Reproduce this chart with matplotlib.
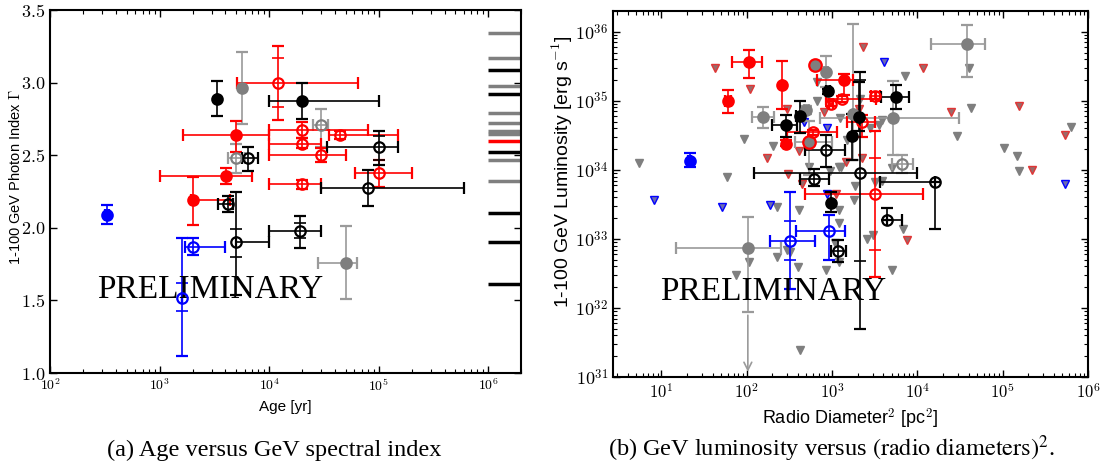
import numpy as np
import matplotlib
matplotlib.use('Agg')
import matplotlib.pyplot as plt
from matplotlib.ticker import FixedLocator, FuncFormatter, LogLocator, NullFormatter, NullLocator

plt.rcParams['font.family'] = ['Liberation Sans', 'DejaVu Sans']
plt.rcParams['mathtext.fontset'] = 'cm'

GRAY = '#7f7f7f'
LGRAY = '#9a9a9a'

# ---- (a) age vs photon index: rows are (x, y, x_lo, x_hi, y_lo, y_hi[, y_lo_stat, y_hi_stat])
a_blue_filled = [(330, 2.09, 315, 345, 2.025, 2.155)]
a_blue_open = [(2000, 1.87, 1700, 4000, 1.81, 1.93),
               (1600, 1.52, 1600, 1600, 1.12, 1.93, 1.43, 1.62)]
a_red_filled = [(2000, 2.19, 1950, 4400, 2.02, 2.35),
                (4030, 2.36, 1000, 7050, 2.30, 2.414),
                (5000, 2.64, 1630, 10000, 2.52, 2.735)]
a_red_open = [(12000, 3.0, 5070, 65000, 2.74, 3.254, 2.83, 3.167),
              (20000, 2.674, 10000, 80000, 2.62, 2.73),
              (20000, 2.58, 10000, 30000, 2.55, 2.62),
              (30000, 2.50, 10000, 50000, 2.45, 2.55),
              (44800, 2.64, 35300, 150000, 2.61, 2.67),
              (20000, 2.30, 10000, 30000, 2.27, 2.33),
              (100000, 2.38, 61000, 200000, 2.28, 2.47)]
a_black_filled = [(3330, 2.89, 3330, 3330, 2.77, 3.01),
                  (20000, 2.875, 10000, 100000, 2.75, 3.0)]
a_black_open = [(4200, 2.164, 3420, 4690, 2.11, 2.22),
                (6470, 2.48, 5660, 7940, 2.39, 2.555),
                (5000, 1.90, 5000, 10000, 1.54, 2.25, 1.80, 1.99),
                (19200, 1.98, 10000, 30000, 1.86, 2.08, 1.93, 2.03),
                (79600, 2.276, 30000, 600000, 2.15, 2.40),
                (100000, 2.554, 34000, 150000, 2.43, 2.67, 2.47, 2.63)]
a_gray_filled = [(5700, 2.96, 5700, 5700, 2.715, 3.21),
                 (50500, 1.76, 27900, 64000, 1.51, 2.01)]
a_gray_open = [(5000, 2.48, 4200, 6000, 2.375, 2.58),
               (30000, 2.71, 25400, 34800, 2.56, 2.82)]

# indices of sources without age (drawn as a strip at the right)
strip_gray = [3.34, 3.17, 2.98, 2.79, 2.72, 2.665, 2.645, 2.47, 2.32]
strip_black = [3.09, 2.92, 2.52, 2.10, 1.90, 1.61]
strip_red = [2.60]

# ---- (b) luminosity vs radio diameter^2
b_blue_filled = [(21.5, 1.34e34, 20.5, 22.5, 1.1e34, 1.74e34)]
b_red_filled = [(59.7, 1.0e35, 55, 65, 6.7e34, 1.44e35),
                (105, 3.6e35, 67, 150, 2.14e35, 5.5e35),
                (262, 1.7e35, 262, 262, 7.6e34, 3.8e35),
                (288, 2.4e34, 275, 300, 2.2e34, 2.7e34),
                (1370, 2.0e35, 665, 1780, 1.23e35, 2.45e35)]
b_gray_redring = [(634, 3.3e35, 634, 634, 3.3e35, 3.3e35),
                  (531, 2.5e34, 370, 1000, 8.3e33, 5.1e34)]
b_gray_filled = [(153, 5.8e34, 115, 206, 4.1e34, 8.1e34),
                 (850, 2.6e35, 800, 900, 1.6e35, 4.5e35),
                 (500, 7.4e34, 470, 540, 6.5e34, 8.5e34),
                 (1770, 6.5e34, 1770, 1770, 1.38e34, 1.29e36),
                 (5220, 5.7e34, 730, 31000, 1.63e34, 1.95e35),
                 (38700, 6.6e35, 14300, 62400, 2.2e35, 1.26e36),
                 (103, 7.3e32, 14.7, 253, 8.6e31, 2.1e33)]
b_black_filled = [(288, 4.5e34, 200, 387, 3.0e34, 6.3e34),
                  (416, 6.1e34, 380, 460, 3.4e34, 1.0e35),
                  (897, 1.37e35, 860, 940, 1.25e35, 1.5e35),
                  (5560, 1.12e35, 3700, 7940, 7.6e34, 1.7e35),
                  (2060, 5.9e34, 2060, 2060, 3.6e34, 1.9e35),
                  (1720, 3.1e34, 1720, 1720, 1.38e34, 6.5e34),
                  (980, 3.3e33, 980, 980, 2.45e33, 4.8e33)]
b_black_open = [(857, 1.95e34, 485, 1430, 1.1e34, 3.2e34),
                (2150, 9.1e33, 123, 10000, 4.9e31, 2.6e35, 4.8e32, 2.0e35),
                (608, 7.4e33, 424, 912, 5.9e33, 1.04e34),
                (1160, 6.7e32, 960, 1450, 4.7e32, 9.6e32),
                (4430, 1.9e33, 4430, 6660, 1.9e33, 2.8e33),
                (16100, 6.6e33, 3640, 16100, 1.4e33, 6.6e33)]
b_gray_open = [(6670, 1.23e34, 5080, 8980, 8.9e33, 1.66e34)]
b_red_open = [(1312, 1.06e35, 850, 3300, 9.5e34, 1.18e35),
              (980, 9.1e34, 930, 1030, 8.4e34, 9.9e34),
              (3230, 1.19e35, 2900, 3600, 1.05e35, 1.35e35),
              (592, 3.5e34, 295, 1140, 3.2e34, 3.8e34),
              (2250, 4.9e34, 1500, 3230, 3.0e34, 6.3e34),
              (3170, 4.5e33, 485, 11500, 2.8e32, 3.6e34, 7.0e32, 1.5e34)]
b_blue_open = [(325, 9.3e32, 185, 635, 1.9e32, 4.7e33, 5.0e32, 1.8e33),
               (913, 1.3e33, 381, 1430, 4.9e32, 2.2e33)]
gray_arrow = (103, 8.6e31, 1.08e31)

# upper limits
gray_limits = [(5.4, 1.27e34), (93, 2.8e34), (59, 8.0e33), (205, 2.2e34), (665, 1.85e35),
               (665, 9.8e34), (530, 1.1e34), (1200, 1.1e34), (225, 2.9e33), (412, 2.65e33),
               (74, 3.0e32), (106, 4.6e32), (229, 5.5e32), (295, 6.8e32), (404, 3.9e32),
               (850, 3.5e32), (424, 2.5e31), (1200, 2.6e33), (323, 6.5e32), (1795, 3.7e33),
               (1200, 1.7e33), (2535, 1.0e33), (3000, 1.13e33), (6840, 1.38e33), (5080, 3.6e32),
               (1200, 4.6e32), (1095, 8.6e32), (7150, 2.25e35), (40500, 2.95e35), (42400, 7.8e34),
               (637000, 4.2e34), (29000, 3.1e34), (103000, 2.1e34), (146000, 1.58e34),
               (154000, 9.6e33), (5080, 1.06e34), (3870, 7.0e33), (3230, 6.7e33), (1845, 5.75e33),
               (1275, 1.1e34), (955, 9.5e33), (2770, 4.0e34), (3530, 4.4e34), (3800, 5.3e34),
               (1250, 5.7e34), (2110, 1.06e35), (1500, 2.7e34)]
red_limits = [(42, 3.0e35), (109, 1.5e35), (175, 1.5e34), (295, 7.6e34), (412, 1.85e34),
              (308, 8.6e33), (811, 6.8e34), (444, 6.3e33), (1122, 4.5e33), (2290, 6.1e35),
              (11750, 3.0e35), (25100, 6.8e34), (157000, 8.3e34), (531000, 3.2e34),
              (221000, 1.0e34), (1470, 1.3e34), (2250, 1.5e34), (7480, 9.5e32), (2060, 7.6e34)]
blue_limits = [(8.1, 3.7e33), (51, 2.9e33), (185, 3.1e33), (463, 4.9e34), (874, 4.0e34),
               (874, 4.5e33), (4050, 3.7e35), (545000, 6.3e33)]


def draw(ax, rows, color, filled=True, ecolor=None, edge=None, ms=7.5):
    ecolor = ecolor or color
    for r in rows:
        x, y, xlo, xhi, ylo, yhi = r[:6]
        ax.errorbar(x, y, xerr=[[x - xlo], [xhi - x]], yerr=[[y - ylo], [yhi - y]],
                    fmt='o', ms=ms, color=ecolor, mfc=color if filled else 'none',
                    mec=edge or color, mew=1.6, elinewidth=1.2, capsize=4, capthick=1.2, zorder=3)
        if len(r) > 6:
            ax.errorbar(x, y, yerr=[[y - r[6]], [r[7] - y]], fmt='none', ecolor=ecolor,
                        elinewidth=0, capsize=4, capthick=1.2, zorder=3)


def style(ax):
    for s in ax.spines.values():
        s.set_linewidth(1.5)
    ax.tick_params(which='both', direction='in', top=True, right=True)
    ax.tick_params(which='major', length=5, width=1)
    ax.tick_params(which='minor', length=3, width=0.8)


pow_fmt = FuncFormatter(lambda v, p: r'$10^{%d}$' % int(round(np.log10(v))))

fig = plt.figure(figsize=(11.07, 4.73), dpi=100)

# ---------------- panel (a)
ax1 = fig.add_axes([0.0452, 0.2114, 0.4255, 0.7674])
ax1.set_xscale('log')
ax1.set_xlim(1e2, 2e6)
ax1.set_ylim(1.0, 3.5)
draw(ax1, a_gray_filled, GRAY, True, ecolor=LGRAY)
draw(ax1, a_gray_open, GRAY, False, ecolor=LGRAY)
draw(ax1, a_red_filled, 'red', True)
draw(ax1, a_red_open, 'red', False)
draw(ax1, a_black_filled, 'black', True)
draw(ax1, a_black_open, 'black', False)
draw(ax1, a_blue_filled, 'blue', True)
draw(ax1, a_blue_open, 'blue', False)
ax1.hlines(strip_gray, 1e6, 2e6, color=GRAY, lw=2.5)
ax1.hlines(strip_black, 1e6, 2e6, color='black', lw=2.5)
ax1.hlines(strip_red, 1e6, 2e6, color='red', lw=2.5)
style(ax1)
ax1.yaxis.set_major_locator(FixedLocator([1.0, 1.5, 2.0, 2.5, 3.0, 3.5]))
ax1.yaxis.set_major_formatter(FuncFormatter(lambda v, p: r'$%.1f$' % v))
ax1.yaxis.set_minor_locator(NullLocator())
ax1.xaxis.set_major_locator(LogLocator(base=10))
ax1.xaxis.set_major_formatter(pow_fmt)
ax1.xaxis.set_minor_formatter(NullFormatter())
ax1.tick_params(axis='y', labelsize=13)
ax1.tick_params(axis='x', labelsize=10)
ax1.set_xlabel('Age [yr]', fontsize=11, family=['Liberation Sans Narrow', 'Liberation Sans'])
ax1.set_ylabel(r'1-100 GeV Photon Index $\Gamma$', fontsize=10.5)
ax1.yaxis.set_label_coords(-0.057, 0.54)
ax1.text(0.0998, 0.2066, 'PRELIMINARY', transform=ax1.transAxes, family='Liberation Serif',
         fontsize=24, ha='left', va='baseline')

# ---------------- panel (b)
ax2 = fig.add_axes([0.5537, 0.203, 0.4291, 0.7738])
ax2.set_xscale('log')
ax2.set_yscale('log')
ax2.set_xlim(2.7, 1e6)
ax2.set_ylim(1e31, 2e36)
gx, gy = zip(*gray_limits)
ax2.plot(gx, gy, 'v', ms=6, color=GRAY, mec=GRAY, zorder=2)
rx, ry = zip(*red_limits)
ax2.plot(rx, ry, 'v', ms=6, color='#9a6a6a', mec='#e03535', mew=1, zorder=2)
bx, by = zip(*blue_limits)
ax2.plot(bx, by, 'v', ms=6, color='#6c6cb0', mec='blue', mew=1, zorder=2)
draw(ax2, b_gray_filled, GRAY, True, ecolor=LGRAY)
draw(ax2, b_gray_redring, GRAY, True, ecolor=LGRAY, edge='red', ms=9)
draw(ax2, b_gray_open, GRAY, False, ecolor=LGRAY)
draw(ax2, b_red_filled, 'red', True)
draw(ax2, b_red_open, 'red', False)
draw(ax2, b_black_filled, 'black', True)
draw(ax2, b_black_open, 'black', False)
draw(ax2, b_blue_filled, 'blue', True)
draw(ax2, b_blue_open, 'blue', False)
ax2.annotate('', xy=(gray_arrow[0], gray_arrow[2]), xytext=(gray_arrow[0], gray_arrow[1]),
             arrowprops=dict(arrowstyle='->', color=LGRAY, lw=1.2, mutation_scale=14))
style(ax2)
ax2.xaxis.set_major_locator(LogLocator(base=10))
ax2.yaxis.set_major_locator(LogLocator(base=10))
ax2.xaxis.set_major_formatter(pow_fmt)
ax2.yaxis.set_major_formatter(pow_fmt)
ax2.xaxis.set_minor_formatter(NullFormatter())
ax2.yaxis.set_minor_formatter(NullFormatter())
ax2.tick_params(axis='y', labelsize=13)
ax2.tick_params(axis='x', labelsize=12)
ax2.set_xlabel(r'Radio Diameter$^2$ [pc$^2$]', fontsize=13)
ax2.set_ylabel(r'1-100 GeV Luminosity [erg s$^{-1}$]', fontsize=14)
ax2.yaxis.set_label_coords(-0.08, 0.56)
ax2.text(0.099, 0.21, 'PRELIMINARY', transform=ax2.transAxes, family='Liberation Serif',
         fontsize=24, ha='left', va='baseline')

# captions
fig.text(0.248, 0.035, '(a) Age versus GeV spectral index', family='Liberation Serif',
         fontsize=17.5, ha='center', va='baseline')
fig.text(0.751, 0.035, r'(b) GeV luminosity versus $\left(\mathrm{radio\ diameters}\right)^2$.',
         family='Liberation Serif', fontsize=17.5, ha='center', va='baseline',
         math_fontfamily='stix')

fig.savefig('out.png', dpi=100)
